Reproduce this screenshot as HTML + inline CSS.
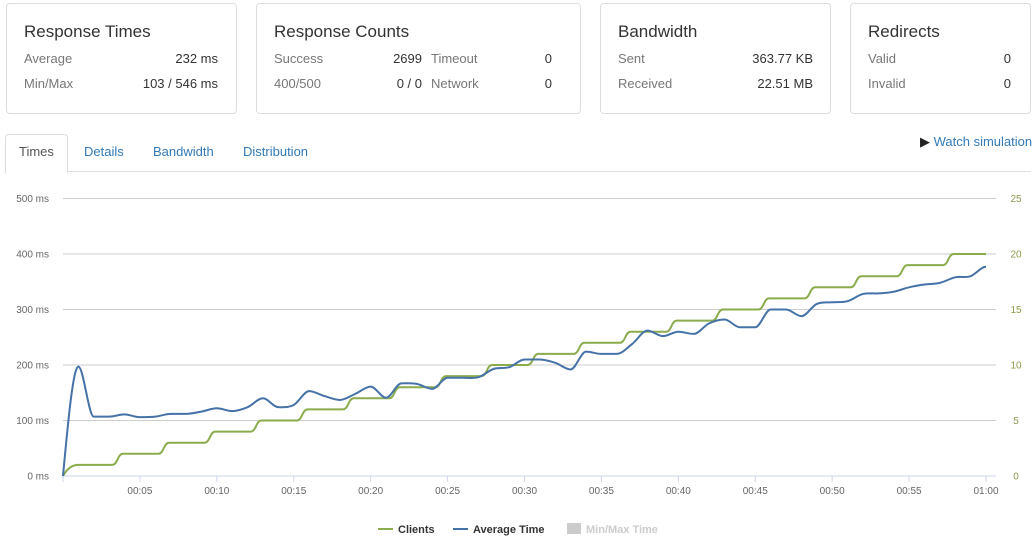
<!DOCTYPE html>
<html><head><meta charset="utf-8"><style>
body{margin:0;width:1036px;height:542px;background:#fff;font-family:"Liberation Sans",sans-serif;position:relative;overflow:hidden}
.card{position:absolute;top:3px;height:111px;border:1px solid #ddd;border-radius:4px;box-sizing:border-box}
.card h3{position:absolute;left:17px;top:18px;margin:0;font-size:17px;font-weight:normal;color:#333}
.r{position:absolute;font-size:13px}
.l{color:#777}.v{color:#333;text-align:right}
.tab{position:absolute;top:144px;font-size:13px;color:#337ab7}
</style></head><body>
<div class="card" style="left:6px;width:231px"><h3>Response Times</h3>
<div class="r l" style="left:17px;top:47px">Average</div><div class="r v" style="right:18px;top:47px">232 ms</div>
<div class="r l" style="left:17px;top:72px">Min/Max</div><div class="r v" style="right:18px;top:72px">103 / 546 ms</div></div>
<div class="card" style="left:256px;width:325px"><h3>Response Counts</h3>
<div class="r l" style="left:17px;top:47px">Success</div><div class="r v" style="left:120px;width:45px;top:47px">2699</div>
<div class="r l" style="left:174px;top:47px">Timeout</div><div class="r v" style="right:28px;top:47px">0</div>
<div class="r l" style="left:17px;top:72px">400/500</div><div class="r v" style="left:120px;width:45px;top:72px">0 / 0</div>
<div class="r l" style="left:174px;top:72px">Network</div><div class="r v" style="right:28px;top:72px">0</div></div>
<div class="card" style="left:600px;width:231px"><h3>Bandwidth</h3>
<div class="r l" style="left:17px;top:47px">Sent</div><div class="r v" style="right:17px;top:47px">363.77 KB</div>
<div class="r l" style="left:17px;top:72px">Received</div><div class="r v" style="right:17px;top:72px">22.51 MB</div></div>
<div class="card" style="left:850px;width:181px"><h3>Redirects</h3>
<div class="r l" style="left:17px;top:47px">Valid</div><div class="r v" style="right:19px;top:47px">0</div>
<div class="r l" style="left:17px;top:72px">Invalid</div><div class="r v" style="right:19px;top:72px">0</div></div>
<div style="position:absolute;left:5px;top:171px;width:1026px;border-top:1px solid #ddd"></div>
<div style="position:absolute;left:5px;top:134px;width:61px;height:38px;border:1px solid #ddd;border-bottom:1px solid #fff;border-radius:4px 4px 0 0;background:#fff"></div>
<div class="tab" style="left:19px;color:#555">Times</div>
<div class="tab" style="left:84px">Details</div>
<div class="tab" style="left:153px">Bandwidth</div>
<div class="tab" style="left:243px">Distribution</div>
<div class="tab" style="left:920px;top:134px"><span style="color:#222">&#9654;</span> Watch simulation</div>
<svg id="c" width="1036" height="542" style="position:absolute;left:0;top:0" font-family="Liberation Sans,sans-serif"></svg>
<script>
var s=document.getElementById('c'),h='';
function X(t){return 63+t*923/60}function Y(v){return 476-v*0.555}
[0,100,200,300,400,500].forEach(function(v,i){var y=Y(v);
h+='<line x1="63" x2="996" y1="'+y+'" y2="'+y+'" stroke="'+(v?'#ccc':'#ccd6eb')+'"/>';
h+='<text x="49" y="'+(y+3.5)+'" font-size="10" fill="#666" text-anchor="end">'+v+' ms</text>';
h+='<text x="1016" y="'+(y+3.5)+'" font-size="10" fill="#8a9a4a" text-anchor="middle">'+(i*5)+'</text>';});
for(var t=0;t<=60;t+=5){var x=X(t);h+='<line x1="'+x+'" x2="'+x+'" y1="476" y2="482" stroke="#ccd6eb"/>';
if(t)h+='<text x="'+x+'" y="494" font-size="10" fill="#666" text-anchor="middle">'+(t==60?'01:00':'00:'+(t<10?'0'+t:t))+'</text>';}
var g='M'+X(0)+' '+Y(0)+' Q'+X(0.4)+' '+Y(20)+' '+X(1)+' '+Y(20);
for(var k=1;k<20;k++){g+=' L'+X(3*k+0.2)+' '+Y(20*k)+' C'+X(3*k+0.55)+' '+Y(20*k)+' '+X(3*k+0.55)+' '+Y(20*k+20)+' '+X(3*k+0.9)+' '+Y(20*k+20);}
g+=' L'+X(60)+' '+Y(400);
h+='<path d="'+g+'" fill="none" stroke="#8bac4c" stroke-width="2"/>';
var a=[0,197,107,107,111,106,107,112,112,116,122,117,124,140,124,128,153,144,137,148,161,141,167,166,157,177,177,178,193,196,210,210,204,192,224,220,220,238,262,252,260,256,275,282,268,268,300,300,288,310,313,315,328,329,332,340,345,348,358,360,377];
function tan(i){if(i<=0||i>=60)return 0;var d1=a[i]-a[i-1],d2=a[i+1]-a[i];if(d1*d2<=0)return 0;return (a[i+1]-a[i-1])/2;}
var p='M'+X(0)+' '+Y(0);
for(var i=0;i<60;i++){var m1=tan(i),m2=tan(i+1);if(i==0)m1=300;
p+=' C'+X(i+1/3)+' '+Y(a[i]+m1/3)+' '+X(i+2/3)+' '+Y(a[i+1]-m2/3)+' '+X(i+1)+' '+Y(a[i+1]);}
h+='<path d="'+p+'" fill="none" stroke="#4572a7" stroke-width="2"/>';
h+='<line x1="378" x2="393" y1="529" y2="529" stroke="#8bac4c" stroke-width="2"/><text x="398" y="533" font-size="11" font-weight="bold" fill="#333">Clients</text>';
h+='<line x1="453" x2="468" y1="529" y2="529" stroke="#4572a7" stroke-width="2"/><text x="473" y="533" font-size="11" font-weight="bold" fill="#333">Average Time</text>';
h+='<rect x="567" y="523" width="14" height="11" fill="#ccc"/><text x="586" y="533" font-size="11" font-weight="bold" fill="#ccc">Min/Max Time</text>';
s.innerHTML=h;
</script>
</body></html>
